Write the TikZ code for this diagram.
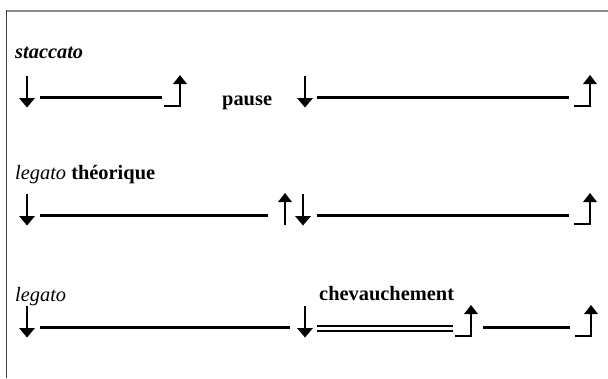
\documentclass[tikz,border=0pt]{standalone}
\usepackage{fontspec}
\setmainfont{Liberation Serif}
\begin{document}
\begin{tikzpicture}[x=1pt,y=-1pt,
  txt/.style={anchor=base west, inner sep=0pt, font=\fontsize{20.4}{24}\selectfont},
  bar/.style={line width=3pt},
  shaft/.style={line width=2.8pt},
  frameline/.style={line width=1.5pt},
  downarr/.pic={\draw[shaft] (0,-21) -- (0,3); \fill (-8,1) -- (8,1) -- (0,10.5) -- cycle;},
  uparr/.pic={\draw[shaft] (0,10) -- (0,-14); \fill (-7,-13) -- (7,-13) -- (0,-22) -- cycle;},
  upbrk/.pic={\draw[shaft, line join=miter] (-16,9) -- (0,9) -- (0,-14); \fill (-7,-13) -- (7,-13) -- (0,-22) -- cycle;}
]
\useasboundingbox (0,0) rectangle (608,378);
% frame
\draw[frameline, draw=gray!90] (6,10.8) -- (608,10.8);
\draw[frameline, draw=black!75] (6.5,10) -- (6.5,378);

% row 1 : staccato
\node[txt, font=\fontsize{20.4}{24}\selectfont\bfseries\itshape] (t1) at (15,58) {staccato};
\pic at (27,97) {downarr};
\draw[bar] (40,97) -- (162,97);
\pic at (180,97) {upbrk};
\node[txt, font=\fontsize{20.4}{24}\selectfont\bfseries] (pause) at (222,105) {pause};
\pic at (305,97) {downarr};
\draw[bar] (317,97) -- (569,97);
\pic at (590,97) {upbrk};

% row 2 : legato theorique
\node[txt] (t2) at (15,179) {\textit{legato} \textbf{théorique}};
\pic at (27,215) {downarr};
\draw[bar] (40,215) -- (268,215);
\pic at (285,215) {uparr};
\pic at (303,215) {downarr};
\draw[bar] (317,215) -- (569,215);
\pic at (590,215) {upbrk};

% row 3 : legato
\node[txt, font=\fontsize{20.4}{24}\selectfont\itshape] (t3) at (15,301) {legato};
\node[txt, font=\fontsize{20.4}{24}\selectfont\bfseries] (chev) at (319,300) {chevauchement};
\pic at (27,327) {downarr};
\draw[bar] (40,327) -- (290,327);
\pic at (305,327) {downarr};
\draw[line width=2pt] (317,326) -- (453,326);
\draw[line width=2pt] (317,330.5) -- (453,330.5);
\pic at (471,327) {upbrk};
\draw[bar] (483,327) -- (570,327);
\pic at (591,327) {upbrk};
\end{tikzpicture}
\end{document}
